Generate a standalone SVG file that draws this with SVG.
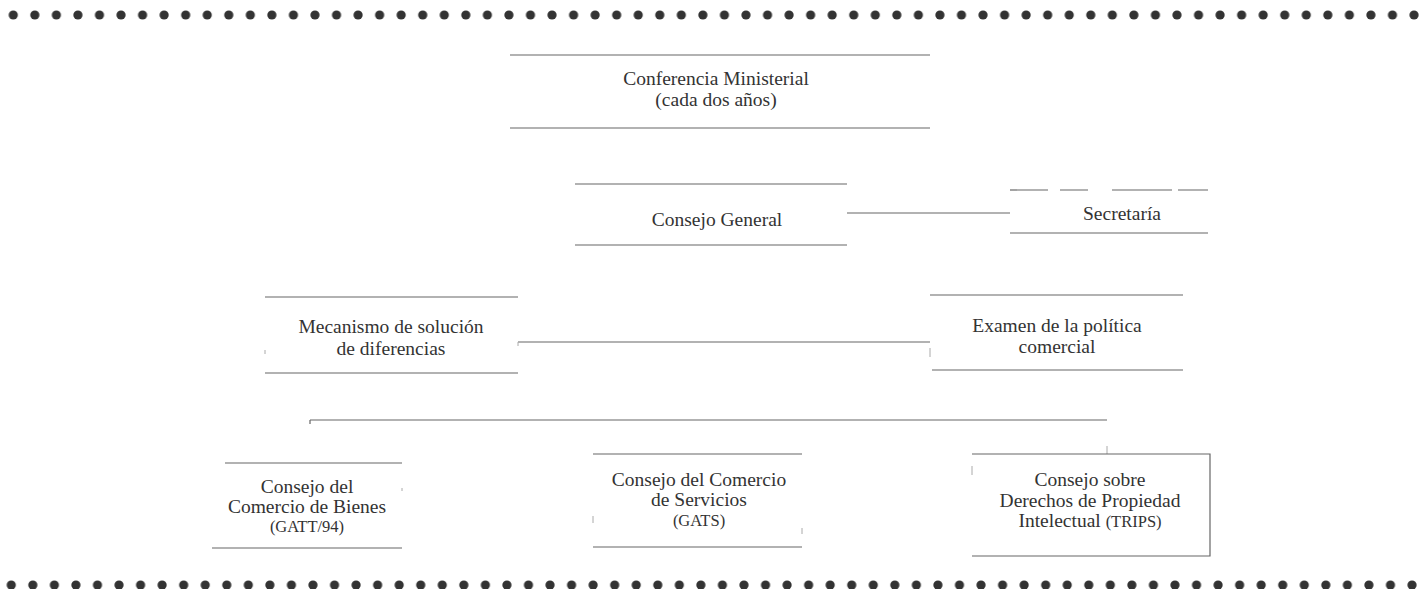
<svg xmlns="http://www.w3.org/2000/svg" width="1427" height="589" viewBox="0 0 1427 589">
<defs>
<pattern id="dots" x="2.5" y="0" width="21.55" height="30" patternUnits="userSpaceOnUse">
<circle cx="10.78" cy="15" r="4.6" fill="#333"/>
</pattern>
</defs>
<style>
.t{font-family:"Liberation Serif","Times New Roman",serif;font-size:19.5px;fill:#333;text-anchor:middle}
.s{font-size:16.5px}
.l{stroke:#666;stroke-width:1.2;fill:none}
.f{stroke:#aaa;stroke-width:1;fill:none}
</style>
<rect x="0" y="0" width="1427" height="30" fill="url(#dots)"/>
<rect x="0" y="567" width="1427" height="30" fill="url(#dots)" transform="translate(-2,0)"/>
<g id="connectors">
<line class="l" x1="847" y1="213" x2="1010" y2="213"/>
<line class="l" x1="518" y1="342" x2="930" y2="342"/>
<line class="f" x1="518" y1="342" x2="518" y2="346"/>
<line class="f" x1="930" y1="348" x2="930" y2="357"/>
<line class="l" x1="310" y1="420" x2="1107" y2="420"/>
<line class="l" x1="310" y1="420" x2="310" y2="424"/>
<line class="f" x1="1107" y1="446" x2="1107" y2="454"/>
</g>
<g id="conferencia">
<line class="l" x1="510" y1="55" x2="930" y2="55"/>
<line class="l" x1="510" y1="128" x2="930" y2="128"/>
<text class="t" x="716" y="85">Conferencia Ministerial</text>
<text class="t" x="716" y="106">(cada dos años)</text>
</g>
<g id="consejo-general">
<line class="l" x1="575" y1="184" x2="847" y2="184"/>
<line class="l" x1="575" y1="245" x2="847" y2="245"/>
<text class="t" x="717" y="226">Consejo General</text>
</g>
<g id="secretaria">
<line class="l" x1="1010" y1="190" x2="1208" y2="190" stroke-dasharray="38,12,28,24,60,6"/>
<line class="l" x1="1010" y1="233" x2="1208" y2="233"/>
<text class="t" x="1122" y="220">Secretaría</text>
</g>
<g id="mecanismo">
<line class="l" x1="265" y1="297" x2="518" y2="297"/>
<line class="l" x1="265" y1="373" x2="518" y2="373"/>
<line class="f" x1="265" y1="350" x2="265" y2="354"/>
<text class="t" x="391" y="333">Mecanismo de solución</text>
<text class="t" x="391" y="355">de diferencias</text>
</g>
<g id="examen">
<line class="l" x1="930" y1="295" x2="1183" y2="295"/>
<line class="l" x1="932" y1="370" x2="1183" y2="370"/>
<text class="t" x="1057" y="332">Examen de la política</text>
<text class="t" x="1057" y="353">comercial</text>
</g>
<g id="bienes">
<line class="l" x1="225" y1="463" x2="402" y2="463"/>
<line class="l" x1="212" y1="548" x2="402" y2="548"/>
<line class="f" x1="402" y1="488" x2="402" y2="491"/>
<text class="t" x="307" y="493">Consejo del</text>
<text class="t" x="307" y="513">Comercio de Bienes</text>
<text class="t s" x="307" y="532">(GATT/94)</text>
</g>
<g id="servicios">
<line class="l" x1="593" y1="454" x2="802" y2="454"/>
<line class="l" x1="593" y1="547" x2="802" y2="547"/>
<line class="f" x1="593" y1="516" x2="593" y2="523"/>
<line class="f" x1="802" y1="528" x2="802" y2="534"/>
<text class="t" x="699" y="486">Consejo del Comercio</text>
<text class="t" x="699" y="506">de Servicios</text>
<text class="t s" x="699" y="526">(GATS)</text>
</g>
<g id="trips">
<path class="l" d="M972 454 H1210 V556 H972"/>
<line class="f" x1="972" y1="466" x2="972" y2="475"/>
<text class="t" x="1090" y="486">Consejo sobre</text>
<text class="t" x="1090" y="507">Derechos de Propiedad</text>
<text class="t" x="1090" y="527">Intelectual <tspan class="s">(TRIPS)</tspan></text>
</g>
</svg>
